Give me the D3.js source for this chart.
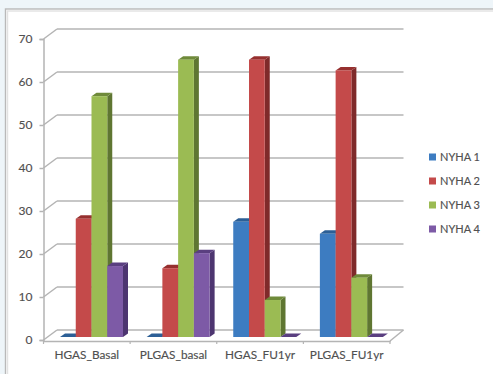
<!DOCTYPE html>
<html>
<head>
<meta charset="utf-8">
<script src="https://cdn.jsdelivr.net/npm/d3@7"></script>
<style>
html, body { margin: 0; padding: 0; background: #eef5f9; }
svg { display: block; }
text { font-family: Lato, "Open Sans", sans-serif; fill: #505050; stroke: #505050; stroke-width: 0.15px; }
</style>
</head>
<body>
<script>
// NYHA functional class distribution per group and time point
const categories = ["HGAS_Basal", "PLGAS_basal", "HGAS_FU1yr", "PLGAS_FU1yr"];
const seriesNames = ["NYHA 1", "NYHA 2", "NYHA 3", "NYHA 4"];
const nyha1 = [0, 0, 26.8, 24];
const nyha2 = [27.5, 16, 64.5, 62];
const nyha3 = [56, 64.5, 8.6, 13.8];
const nyha4 = [16.5, 19.5, 0, 0];
const seriesValues = [nyha1, nyha2, nyha3, nyha4];
const yTicks = [0, 10, 20, 30, 40, 50, 60, 70];

const frontColors = ["#3d7cc1", "#c44a4a", "#9bbb53", "#7d5aa6"];
const sideColors = ["#25507f", "#7f2a2a", "#5f7632", "#4d3570"];
const topColors = ["#2c5f96", "#96302f", "#6f8a3a", "#5a3f80"];

const W = 493, H = 374;
const wallDx = 13.5, wallDy = -10;   // oblique offset of the back wall
const barDx = 5, barDy = -3.5;       // oblique depth of each bar
const barShiftY = -3;                // bars sit part-way into the floor

const svg = d3.select("body").append("svg").attr("width", W).attr("height", H);

// white plot card with a double grey edge
svg.append("rect").attr("x", 5.5).attr("y", 9).attr("width", W).attr("height", H)
  .attr("fill", "#fff").attr("stroke", "#b9b9b9").attr("stroke-width", 1.4);
svg.append("rect").attr("x", 7.5).attr("y", 11).attr("width", W).attr("height", H)
  .attr("fill", "none").attr("stroke", "#e2e2e2").attr("stroke-width", 1.4);

const y = d3.scaleLinear().domain([0, 70]).range([340, 39]);
const x0 = d3.scaleBand().domain(categories).range([43.5, 390]);
const x1 = d3.scaleBand().domain(seriesNames).range([16.5, 79.5]);

const grid = "#b4b4b4";
const line = (g, xa, ya, xb, yb, w = 1.5) =>
  g.append("line").attr("x1", xa).attr("y1", ya).attr("x2", xb).attr("y2", yb)
    .attr("stroke", grid).attr("stroke-width", w);

// back wall gridlines and their diagonal links to the axis
const gridG = svg.append("g");
yTicks.forEach(t => {
  line(gridG, x0.range()[0] + wallDx, y(t) + wallDy, x0.range()[1] + wallDx, y(t) + wallDy);
  line(gridG, x0.range()[0], y(t), x0.range()[0] + wallDx, y(t) + wallDy);
});

// floor edge on the right side
line(gridG, x0.range()[1], y(0) + 1, x0.range()[1] + wallDx, y(0) + wallDy);

// bars: side and top faces first, then the front face
const barsG = svg.append("g");
categories.forEach((c, ci) => {
  seriesNames.forEach((s, si) => {
    const v = seriesValues[si][ci];
    const xl = x0(c) + x1(s);
    const w = x1.bandwidth();
    const yb = y(0) + barShiftY;
    const yt = y(v) + barShiftY;
    const g = barsG.append("g");
    g.append("polygon").attr("fill", sideColors[si])
      .attr("points", [[xl + w, yt], [xl + w + barDx, yt + barDy], [xl + w + barDx, yb + barDy], [xl + w, yb]].join(" "));
    g.append("polygon").attr("fill", topColors[si])
      .attr("points", [[xl, yt], [xl + barDx, yt + barDy], [xl + w + barDx, yt + barDy], [xl + w, yt]].join(" "));
    if (v > 0) {
      g.append("rect").attr("x", xl).attr("y", yt).attr("width", w).attr("height", yb - yt)
        .attr("fill", frontColors[si]);
    }
  });
});

// value axis with outward ticks
const yAxisG = svg.append("g").attr("transform", `translate(${x0.range()[0]},0)`)
  .call(d3.axisLeft(y).tickValues(yTicks).tickSize(4).tickPadding(7).tickFormat(d3.format("d")));
yAxisG.attr("font-family", null);
yAxisG.selectAll("text").style("font-size", "12px");
yAxisG.selectAll("line").attr("stroke", grid).attr("stroke-width", 1.5);
yAxisG.select(".domain").attr("stroke", grid).attr("stroke-width", 1.5);

// category axis along the front edge of the floor
const xAxisG = svg.append("g").attr("transform", `translate(0,${y(0) + 1})`)
  .call(d3.axisBottom(x0).tickSize(0).tickPadding(10));
xAxisG.attr("font-family", null);
xAxisG.selectAll("text").style("font-size", "11.8px");
xAxisG.select(".domain").attr("stroke", grid).attr("stroke-width", 1.5);
const edges = categories.map(c => x0(c)).concat(x0.range()[1]);
edges.forEach(e => line(svg, e, y(0) + 1, e, y(0) + 4, 1.2));

// legend
const legend = svg.append("g");
seriesNames.forEach((s, i) => {
  const ly = 157 + i * 24;
  legend.append("rect").attr("x", 429).attr("y", ly - 3.5).attr("width", 7).attr("height", 7).attr("fill", frontColors[i]);
  legend.append("text").attr("x", 440).attr("y", ly + 4).style("font-size", "11px").text(s);
});
</script>
</body>
</html>
